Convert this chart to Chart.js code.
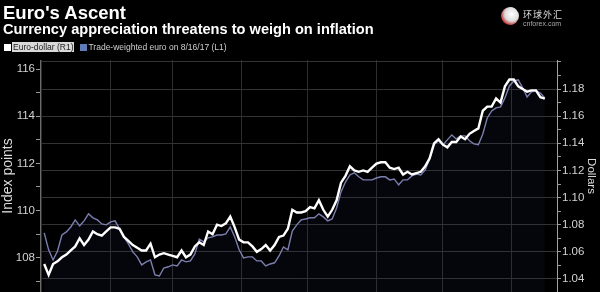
<!DOCTYPE html>
<html lang="en">
<head>
<meta charset="UTF-8">
<title>Euro's Ascent</title>
<script src="https://cdn.jsdelivr.net/npm/chart.js"></script>
<style>
  body { margin: 0; background: #000; }
  .wrap {
    position: relative; width: 600px; height: 292px; overflow: hidden;
    background: #000; font-family: 'Liberation Sans', Arial, sans-serif;
  }
  #chart { position: absolute; left: 0; top: 0; z-index: 0; }
  .title { position: absolute; left: 3px; top: 2px; color: #fff; font-weight: 700; font-size: 18.5px; z-index: 1; }
  .subtitle { position: absolute; left: 3px; top: 21px; color: #fff; font-weight: 700; font-size: 14.6px; z-index: 1; }
  .legend { position: absolute; left: 4px; top: 42px; display: flex; align-items: center; font-size: 8.5px; color: #cfcfcf; z-index: 1; }
  .legend .sq { width: 7px; height: 7px; display: inline-block; margin-right: 1px; }
  .legend .hl { background: #d9d9d9; color: #1a1a1a; padding: 0 1px; margin-right: 6px; }
  .logo { position: absolute; left: 501px; top: 5px; z-index: 1; }
  .logo .ball {
    position: absolute; left: 0; top: 2px; width: 18px; height: 18px; border-radius: 50%;
    background: radial-gradient(circle at 60% 40%, #fff 0%, #ddd 45%, #b22 75%, #300 100%);
  }
  .logo .cn { position: absolute; left: 22px; top: 3px; color: #ddd; font-size: 9px; font-family: 'Noto Sans CJK SC', sans-serif; white-space: nowrap; letter-spacing: 1px; }
  .logo .en { position: absolute; left: 22px; top: 15px; color: #aaa; font-size: 7px; white-space: nowrap; }
</style>
</head>
<body>
<div class="wrap">
  <canvas id="chart" width="600" height="292"></canvas>
  <div class="title">Euro's Ascent</div>
  <div class="subtitle">Currency appreciation threatens to weigh on inflation</div>
  <div class="legend">
    <span class="sq" style="background:#fff"></span><span class="hl">Euro-dollar (R1)</span>
    <span class="sq" style="background:#5f7cb8"></span><span>Trade-weighted euro on 8/16/17 (L1)</span>
  </div>
  <div class="logo"><div class="ball"></div><div class="cn">环球外汇</div><div class="en">cnforex.com</div></div>
</div>
<script>
// sample every 2 days, day 1 = Jan 2 2017 (day 0 = Jan 1)
const firstDay = 1;
const dayStep = 2;
// month starts (day of year) used for vertical grid lines
const monthStarts = [0, 31, 59, 90, 120, 151, 181, 212];

// Euro-dollar, right axis (dollars)
const euroDollar = [
  1.051, 1.043, 1.051, 1.053, 1.056, 1.058, 1.061, 1.064, 1.070, 1.065,
  1.069, 1.075, 1.073, 1.072, 1.075, 1.078, 1.078, 1.077, 1.071, 1.068,
  1.065, 1.063, 1.061, 1.061, 1.066, 1.056, 1.058, 1.059, 1.058, 1.057,
  1.056, 1.061, 1.056, 1.058, 1.064, 1.067, 1.065, 1.075, 1.073, 1.080,
  1.079, 1.081, 1.086, 1.078, 1.069, 1.067, 1.067, 1.064, 1.060, 1.062,
  1.065, 1.061, 1.065, 1.071, 1.072, 1.077, 1.091, 1.089, 1.089, 1.090,
  1.093, 1.092, 1.098, 1.091, 1.086, 1.091, 1.098, 1.111, 1.116, 1.123,
  1.120, 1.119, 1.120, 1.119, 1.122, 1.125, 1.126, 1.126, 1.122, 1.121,
  1.122, 1.117, 1.119, 1.117, 1.118, 1.119, 1.123, 1.129, 1.140, 1.143,
  1.139, 1.137, 1.141, 1.141, 1.145, 1.143, 1.147, 1.149, 1.151, 1.164,
  1.167, 1.167, 1.173, 1.170, 1.182, 1.187, 1.187, 1.182, 1.180, 1.178,
  1.179, 1.179, 1.174, 1.173
];

// Trade-weighted euro, left axis (index points)
const tradeWeighted = [
  109.05, 108.33, 107.90, 108.28, 108.96, 109.09, 109.30, 109.60, 109.35, 109.56,
  109.86, 109.69, 109.60, 109.43, 109.39, 109.52, 109.56, 109.22, 108.88, 108.58,
  108.24, 108.03, 107.69, 107.82, 107.90, 107.27, 107.22, 107.56, 107.61, 107.69,
  107.65, 107.90, 107.82, 107.86, 108.16, 108.79, 108.67, 108.84, 108.88, 108.96,
  108.96, 109.01, 109.30, 108.88, 108.33, 107.99, 108.03, 108.03, 107.86, 107.86,
  107.65, 107.73, 107.78, 108.07, 108.45, 108.33, 109.13, 109.39, 109.60, 109.64,
  109.69, 109.69, 109.86, 109.73, 109.56, 109.64, 110.11, 110.79, 111.21, 111.51,
  111.60, 111.43, 111.30, 111.30, 111.30, 111.38, 111.43, 111.43, 111.30, 111.34,
  111.09, 111.30, 111.30, 111.47, 111.55, 111.51, 111.72, 112.19, 112.79, 112.96,
  112.79, 113.00, 113.21, 113.04, 113.17, 113.17, 112.96, 112.83, 112.79, 113.25,
  113.93, 114.23, 114.36, 114.40, 114.78, 115.29, 115.50, 115.55, 115.21, 114.82,
  115.04, 115.08, 114.99, 114.78
];

const leftTicks = [107, 108, 109, 110, 111, 112, 113, 114, 115, 116];
const rightTicks = [1.03, 1.04, 1.05, 1.06, 1.07, 1.08, 1.09, 1.10, 1.11, 1.12,
                    1.13, 1.14, 1.15, 1.16, 1.17, 1.18, 1.19, 1.20];

const days = euroDollar.map((_, i) => firstDay + i * dayStep);
const toPoints = arr => arr.map((v, i) => ({ x: days[i], y: v }));

const tickFont = { family: "'Liberation Sans', Arial, sans-serif", size: 11.5 };
const isEvenCent = v => Math.round(v * 100) % 2 === 0;

// y axes: fixed width, no extra label padding so the plot runs to the canvas bottom
const fitY = w => s => { s.width = w; s.paddingTop = 0; s.paddingBottom = 0; };

new Chart(document.getElementById('chart').getContext('2d'), {
  type: 'line',
  data: {
    datasets: [
      {
        label: 'Euro-dollar (R1)',
        data: toPoints(euroDollar),
        yAxisID: 'yR',
        borderColor: '#ffffff',
        borderWidth: 2.4,
        pointRadius: 0,
        fill: false,
        order: 0
      },
      {
        label: 'Trade-weighted euro on 8/16/17 (L1)',
        data: toPoints(tradeWeighted),
        yAxisID: 'yL',
        borderColor: '#7b7fae',
        borderWidth: 1.4,
        pointRadius: 0,
        fill: 'start',
        backgroundColor: 'rgba(40, 40, 100, 0.12)',
        order: 1
      }
    ]
  },
  options: {
    responsive: false,
    animation: false,
    layout: { padding: { top: 60, left: 0, right: 0, bottom: 0 } },
    plugins: { legend: { display: false }, tooltip: { enabled: false } },
    elements: { line: { tension: 0 } },
    scales: {
      x: {
        type: 'linear',
        min: -0.9,
        max: 232.5,
        ticks: { display: false },
        grid: { color: '#2e2e2e', drawTicks: false },
        border: { display: false },
        afterBuildTicks: s => { s.ticks = monthStarts.map(v => ({ value: v })); },
        afterFit: s => { s.height = 0; }
      },
      yL: {
        position: 'left',
        min: 106.54,
        max: 116.39,
        afterBuildTicks: s => { s.ticks = leftTicks.map(v => ({ value: v })); },
        afterFit: fitY(40),
        ticks: {
          autoSkip: false,
          color: '#d2d2d2', font: tickFont, padding: 1,
          callback: v => (v % 2 === 0 ? v : '')
        },
        grid: { drawOnChartArea: false, tickLength: 4, color: '#9a9a9a' },
        border: { color: '#6a6a6a' },
        title: {
          display: true, text: 'Index points', color: '#dcdcdc',
          font: { family: "'Liberation Sans', Arial, sans-serif", size: 14 },
          padding: { top: 0, bottom: 0 }
        }
      },
      yR: {
        position: 'right',
        min: 1.0304,
        max: 1.2014,
        afterBuildTicks: s => { s.ticks = rightTicks.map(v => ({ value: v })); },
        afterFit: fitY(43),
        ticks: {
          autoSkip: false,
          color: '#d2d2d2', font: tickFont, padding: 1,
          callback: v => (isEvenCent(v) && v > 1.035 && v < 1.19 ? v.toFixed(2) : '')
        },
        grid: {
          tickLength: 4,
          tickColor: '#9a9a9a',
          color: ctx => (isEvenCent(ctx.tick.value) ? '#333333' : 'rgba(0,0,0,0)')
        },
        border: { color: '#a0a0a0' },
        title: {
          display: true, text: 'Dollars', color: '#dcdcdc',
          font: { family: "'Liberation Sans', Arial, sans-serif", size: 11.5 },
          padding: { top: 2, bottom: 0 }
        }
      }
    }
  }
});
</script>
</body>
</html>
